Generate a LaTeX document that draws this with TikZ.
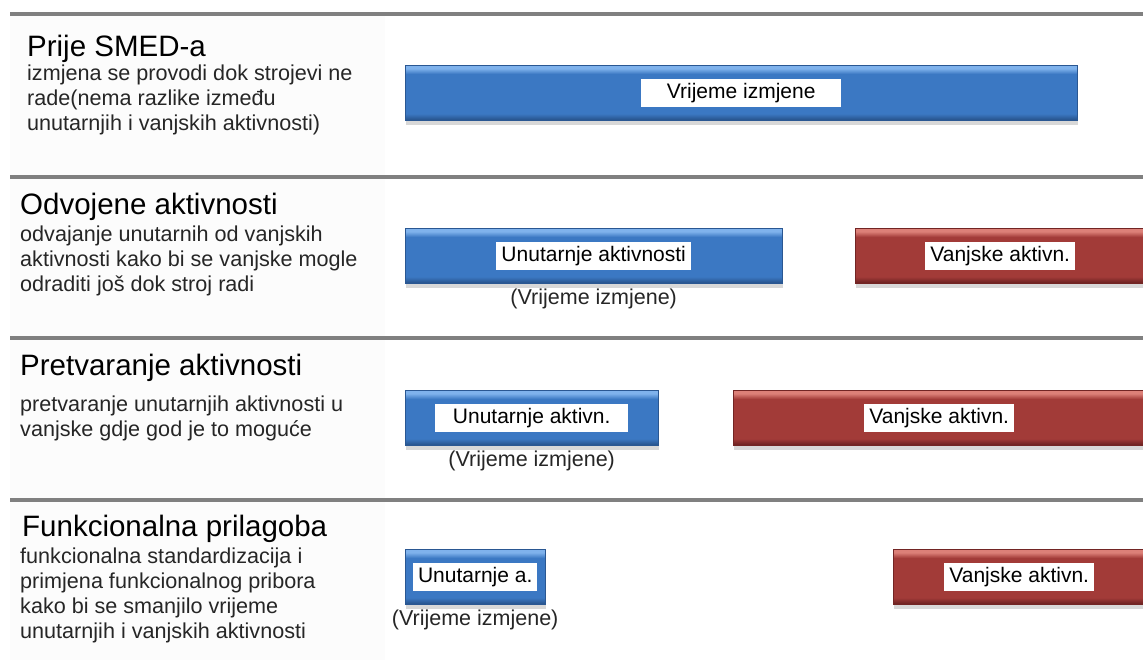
\documentclass[tikz,border=0pt]{standalone}
\usepackage{fontspec}
\setmainfont{Liberation Sans}
\usetikzlibrary{positioning,shadows}

\definecolor{barblue}{HTML}{3B78C3}
\definecolor{barbluelight}{HTML}{7FB2EC}
\definecolor{barbluedark}{HTML}{2A5792}
\definecolor{barred}{HTML}{A23B38}
\definecolor{barredlight}{HTML}{DC8078}
\definecolor{barreddark}{HTML}{722524}

% bevelled look: light band on top, dark band at the bottom
\pgfdeclareverticalshading{inshade}{100bp}{color(0bp)=(barbluedark); color(26bp)=(barbluedark);
  color(31bp)=(barblue); color(67bp)=(barblue); color(72bp)=(barbluelight); color(100bp)=(barbluelight)}
\pgfdeclareverticalshading{exshade}{100bp}{color(0bp)=(barreddark); color(26bp)=(barreddark);
  color(31bp)=(barred); color(67bp)=(barred); color(72bp)=(barredlight); color(100bp)=(barredlight)}

\begin{document}
\begin{tikzpicture}[x=1pt,y=-1pt,node distance=5pt]
    \tikzstyle{sep}=[draw=black!50,line width=4pt]
    \tikzstyle{title}=[anchor=base west,inner sep=0pt,font=\fontsize{29.5}{34}\selectfont]
    \tikzstyle{desc}=[anchor=north west,inner sep=0pt,align=left,text=black!85,font=\fontsize{21.6}{24.8}\selectfont]
    \tikzstyle{bar}=[anchor=north west,minimum height=55pt,inner sep=0pt,drop shadow={shadow xshift=1pt,shadow yshift=-5pt,opacity=0.3}]
    \tikzstyle{inbar}=[bar,draw=barbluedark,shading=inshade]
    \tikzstyle{exbar}=[bar,draw=barreddark,shading=exshade]
    \tikzstyle{tag}=[fill=white,inner xsep=5pt,inner ysep=0pt,minimum height=28pt,font=\fontsize{21}{24}\selectfont]
    \tikzstyle{note}=[inner sep=0pt,text=black!85,font=\fontsize{21.5}{24}\selectfont]

    \path[use as bounding box] (0,0) rectangle (1143,660);
    \clip (0,0) rectangle (1143,660);
    \fill[white] (0,0) rectangle (1143,660);

    % left panels and separators
    \foreach \a/\b in {16/175,179/336,340/498,502/660}
    \fill[black!1] (10,\a) rectangle (385,\b);
    \foreach \y in {14,177,338,500}
    \draw[sep] (10,\y) -- (1143,\y);

    % titles
    \node[title] (H-1) at (27,57) {Prije SMED-a};
    \node[title] (H-2) at (20,215) {Odvojene aktivnosti};
    \node[title] (H-3) at (20,375) {Pretvaranje aktivnosti};
    \node[title] (H-4) at (22,536) {Funkcionalna prilagoba};

    % descriptions
    \node[desc] (D-1) at (27,65) {izmjena se provodi dok strojevi ne\\rade(nema razlike između\\unutarnjih i vanjskih aktivnosti)};
    \node[desc] (D-2) at (20,226) {odvajanje unutarnih od vanjskih\\aktivnosti kako bi se vanjske mogle\\odraditi još dok stroj radi};
    \node[desc] (D-3) at (20,396) {pretvaranje unutarnjih aktivnosti u\\vanjske gdje god je to moguće};
    \node[desc] (D-4) at (20,548) {funkcionalna standardizacija i\\primjena funkcionalnog pribora\\kako bi se smanjilo vrijeme\\unutarnjih i vanjskih aktivnosti};

    % internal (blue) bars
    \foreach \i/\y/\w in {1/65/672,2/228/377,3/390/253,4/549/140}
    \node[inbar,minimum width=\w pt] (B-\i) at (405,\y) {};

    % external (red) bars
    \foreach \i/\x/\y/\w in {2/855/228/290,3/733/390/412,4/893/549/252}
    \node[exbar,minimum width=\w pt] (R-\i) at (\x,\y) {};

    % labels on the bars
    \node[tag,minimum width=200pt] (L-1) at (B-1) {Vrijeme izmjene};
    \node[tag] (L-2) at (B-2) {Unutarnje aktivnosti};
    \node[tag,minimum width=193pt] (L-3) at (B-3) {Unutarnje aktivn.};
    \node[tag] (L-4) at (B-4) {Unutarnje a.};
    \foreach \i in {2,3,4}
    \node[tag] (V-\i) at (R-\i) {Vanjske aktivn.};

    % change-over time under the blue bars
    \foreach \i in {2,3,4}
    \node[note,below=of B-\i] (N-\i) {(Vrijeme izmjene)};
\end{tikzpicture}
\end{document}
